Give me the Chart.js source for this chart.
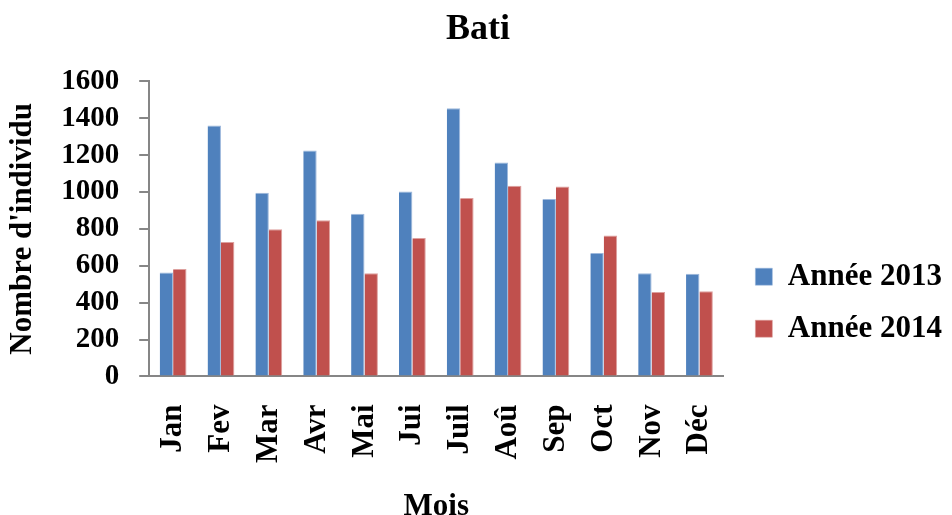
<!DOCTYPE html>
<html>
<head>
<meta charset="utf-8">
<script src="https://cdn.jsdelivr.net/npm/chart.js@4"></script>
<style>
  body { margin: 0; background: #fff; }
  #wrap { width: 952px; height: 515px; }
</style>
</head>
<body>
<div id="wrap"><canvas id="chartBati" width="952" height="515"></canvas></div>
<script>
const mois = ['Jan', 'Fev', 'Mar', 'Avr', 'Mai', 'Jui', 'Juil', 'Aoû', 'Sep', 'Oct', 'Nov', 'Déc'];
const annee2013 = [564, 1360, 995, 1224, 882, 1002, 1453, 1160, 962, 669, 560, 556];
const annee2014 = [582, 729, 798, 847, 560, 751, 967, 1033, 1029, 764, 458, 462];
const seriesNames = ['Année 2013', 'Année 2014'];

const police = "'Liberation Serif', 'Times New Roman', serif";
const gris = '#868686';

function crearGrafica() {
  const ctx = document.getElementById('chartBati').getContext('2d');
  new Chart(ctx, {
    type: 'bar',
    data: {
      labels: mois,
      datasets: [{
        label: seriesNames[0],
        data: annee2013,
        backgroundColor: '#4F81BD',
        borderColor: '#9DB8DC',
        borderWidth: { top: 1, right: 1, left: 0, bottom: 0 }
      }, {
        label: seriesNames[1],
        data: annee2014,
        backgroundColor: '#C0504D',
        borderColor: '#DDA09E',
        borderWidth: { top: 1, right: 1, left: 0, bottom: 0 }
      }]
    },
    options: {
      responsive: false,
      animation: false,
      categoryPercentage: 0.56,
      barPercentage: 1.0,
      layout: { padding: { left: 4, right: 0, top: 4, bottom: 0 } },
      plugins: {
        tooltip: { enabled: false },
        title: {
          display: true,
          text: 'Bati',
          color: '#000',
          font: { family: police, size: 36, weight: 'bold' },
          padding: { top: 4, bottom: 30 }
        },
        legend: {
          position: 'right',
          // titre vide pour descendre la légende
          title: { display: true, text: '', padding: { top: 31, bottom: 30 } },
          labels: {
            color: '#000',
            font: { family: police, size: 31, weight: 'bold', lineHeight: 20 / 31 },
            boxWidth: 17,
            boxHeight: 17,
            padding: 32,
            // texte en tableau : la hauteur de ligne règle l'écart entre les deux entrées
            generateLabels: chart => Chart.defaults.plugins.legend.labels.generateLabels(chart)
              .map(item => Object.assign(item, { text: [item.text] }))
          }
        }
      },
      scales: {
        x: {
          grid: { display: false, drawTicks: false },
          border: { color: gris, width: 2 },
          ticks: {
            color: '#000',
            autoSkip: false,
            maxRotation: 90,
            minRotation: 90,
            padding: 28,
            font: { family: police, size: 31, weight: 'bold' }
          },
          title: {
            display: true,
            text: 'Mois',
            color: '#000',
            font: { family: police, size: 31, weight: 'bold', lineHeight: 1.0 },
            padding: { top: 0, bottom: -7 }
          }
        },
        y: {
          min: 0,
          max: 1600,
          grid: { drawOnChartArea: false, color: gris, lineWidth: 2, tickLength: 10 },
          border: { color: gris, width: 2 },
          ticks: {
            stepSize: 200,
            autoSkip: false,
            color: '#000',
            padding: 20,
            format: { useGrouping: false },
            font: { family: police, size: 29, weight: 'bold' }
          },
          title: {
            display: true,
            text: "Nombre d'individu",
            color: '#000',
            font: { family: police, size: 31, weight: 'bold' },
            padding: { top: 0, bottom: 0 }
          }
        }
      }
    }
  });
}

document.addEventListener('DOMContentLoaded', crearGrafica);
</script>
</body>
</html>
